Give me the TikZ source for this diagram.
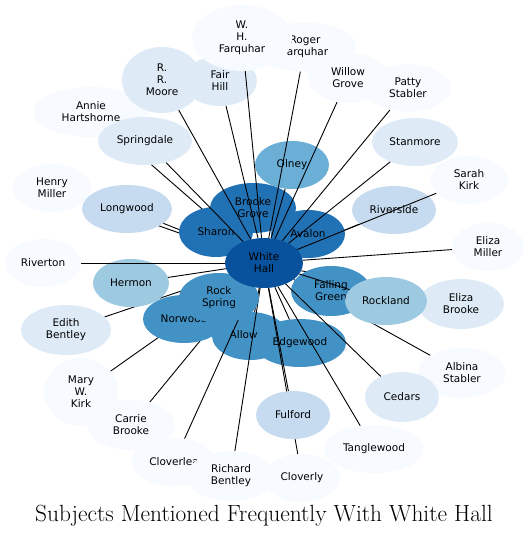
\documentclass[tikz,border=0pt]{standalone}
\usepackage{fontspec}
\setsansfont{DejaVu Sans}
\usepackage{tikz}
\usetikzlibrary{shapes.geometric}
\definecolor{blues1}{HTML}{F7FBFF}
\definecolor{blues2}{HTML}{DEEBF7}
\definecolor{blues3}{HTML}{C6DBEF}
\definecolor{blues4}{HTML}{9ECAE1}
\definecolor{blues5}{HTML}{6BAED6}
\definecolor{blues6}{HTML}{4292C6}
\definecolor{blues7}{HTML}{2171B5}
\definecolor{blues8}{HTML}{08519C}
\pgfdeclarelayer{e1}
\pgfdeclarelayer{n1}
\pgfdeclarelayer{e2}
\pgfdeclarelayer{n2}
\pgfdeclarelayer{e3}
\pgfsetlayers{e1,n1,e2,n2,e3,main}

\begin{document}
\begin{tikzpicture}[x=1pt,y=-1pt,
                    subject/.style={ellipse,inner sep=0pt,align=center,font=\sffamily\fontsize{10.5}{12}\selectfont},
                    oval/.style 2 args={minimum width=#1pt,minimum height=#2pt},
                    b1 node/.style={subject,fill=blues1},
                    b2 node/.style={subject,fill=blues2},
                    b3 node/.style={subject,fill=blues3},
                    b4 node/.style={subject,fill=blues4},
                    b5 node/.style={subject,fill=blues5},
                    b6 node/.style={subject,fill=blues6},
                    b7 node/.style={subject,fill=blues7},
                    b8 node/.style={subject,fill=blues8},
                    every edge/.style={draw,line width=0.9pt}]
\useasboundingbox (0,0) rectangle (529,539);

\begin{pgfonlayer}{n1}
\node[b1 node,oval={116}{50}] (annie) at (91,112) {Annie\\Hartshorne};
\node[b1 node,oval={78}{48}] (henry) at (52,188) {Henry\\Miller};
\node[b1 node,oval={76}{48}] (riverton) at (43,263) {Riverton};
\node[b2 node,oval={94}{48}] (springdale) at (145,141) {Springdale};
\node[b2 node,oval={74}{50}] (fairhill) at (220,81) {Fair\\Hill};
\node[b2 node,oval={80}{66}] (rrmoore) at (162,80) {R.\\R.\\Moore};
\node[b1 node,oval={102}{49}] (roger) at (305,47) {Roger\\Farquhar};
\node[b1 node,oval={100}{66}] (whf) at (242,38) {W.\\H.\\Farquhar};
\node[b1 node,oval={80}{50}] (willow) at (348,78) {Willow\\Grove};
\node[b1 node,oval={86}{48}] (patty) at (408,88) {Patty\\Stabler};
\node[b2 node,oval={86}{48}] (stanmore) at (415,142) {Stanmore};
\node[b1 node,oval={78}{48}] (sarah) at (469,180) {Sarah\\Kirk};
\node[b3 node,oval={84}{48}] (riverside) at (394,210) {Riverside};
\node[b1 node,oval={72}{48}] (elizam) at (488,247) {Eliza\\Miller};
\node[b2 node,oval={86}{50}] (elizab) at (461,304) {Eliza\\Brooke};
\node[b1 node,oval={88}{50}] (albina) at (462,373) {Albina\\Stabler};
\node[b2 node,oval={74}{50}] (cedars) at (402,397) {Cedars};
\node[b1 node,oval={100}{48}] (tanglewood) at (374,449) {Tanglewood};
\node[b1 node,oval={76}{48}] (cloverly) at (302,478) {Cloverly};
\node[b1 node,oval={84}{48}] (cloverlea) at (174,462) {Cloverlea};
\node[b1 node,oval={88}{50}] (richard) at (231,476) {Richard\\Bentley};
\node[b1 node,oval={88}{50}] (carrie) at (131,425) {Carrie\\Brooke};
\node[b1 node,oval={74}{68}] (mary) at (81,392) {Mary\\W.\\Kirk};
\node[b2 node,oval={90}{50}] (edith) at (66,330) {Edith\\Bentley};
\node[b3 node,oval={90}{48}] (longwood) at (127,209) {Longwood};
\node[b4 node,oval={76}{48}] (hermon) at (131,283) {Hermon};
\node[b5 node,oval={74}{48}] (olney) at (292,165) {Olney};
\node[b7 node,oval={74}{50}] (sharon) at (216,232) {Sharon};
\node[b7 node,oval={86}{50}] (brooke) at (253,208) {Brooke\\Grove};
\node[b7 node,oval={74}{48}] (avalon) at (308,234) {Avalon};
\end{pgfonlayer}

\begin{pgfonlayer}{n2}
\node[b6 node,oval={80}{50}] (falling) at (331,291) {Falling\\Green};
\node[b4 node,oval={82}{48}] (rockland) at (386,301) {Rockland};
\node[b6 node,oval={82}{48}] (norwood) at (184,319) {Norwood};
\node[b6 node,oval={76}{48}] (alloway) at (250,336) {Alloway};
\node[b6 node,oval={92}{48}] (edgewood) at (300,343) {Edgewood};
\end{pgfonlayer}

\node[b3 node,oval={74}{48}] (fulford) at (293,415) {Fulford};
\node[b6 node,oval={80}{50}] (rockspring) at (219,298) {Rock\\Spring};
\node[b8 node,oval={78}{50}] (wh) at (264,263) {White\\Hall};

\node (title) at (264,516) {\fontsize{23.4}{28}\selectfont Subjects Mentioned Frequently With White Hall};

\begin{pgfonlayer}{e1}
\path (wh) edge (annie) edge (henry) edge (longwood) edge (edith) edge (mary)
           edge (carrie) edge (albina) edge (elizab) edge (riverside);
\end{pgfonlayer}
\begin{pgfonlayer}{e2}
\path (wh) edge (springdale) edge (rrmoore) edge (fairhill) edge (whf) edge (roger)
           edge (willow) edge (patty) edge (stanmore) edge (sarah) edge (elizam)
           edge (riverton) edge (hermon) edge (olney);
\end{pgfonlayer}
\begin{pgfonlayer}{e3}
\path (wh) edge (rockland) edge (cedars) edge (tanglewood) edge (cloverly) edge (edgewood)
           edge (alloway) edge (cloverlea) edge (richard) edge (fulford);
\end{pgfonlayer}
\end{tikzpicture}
\end{document}
